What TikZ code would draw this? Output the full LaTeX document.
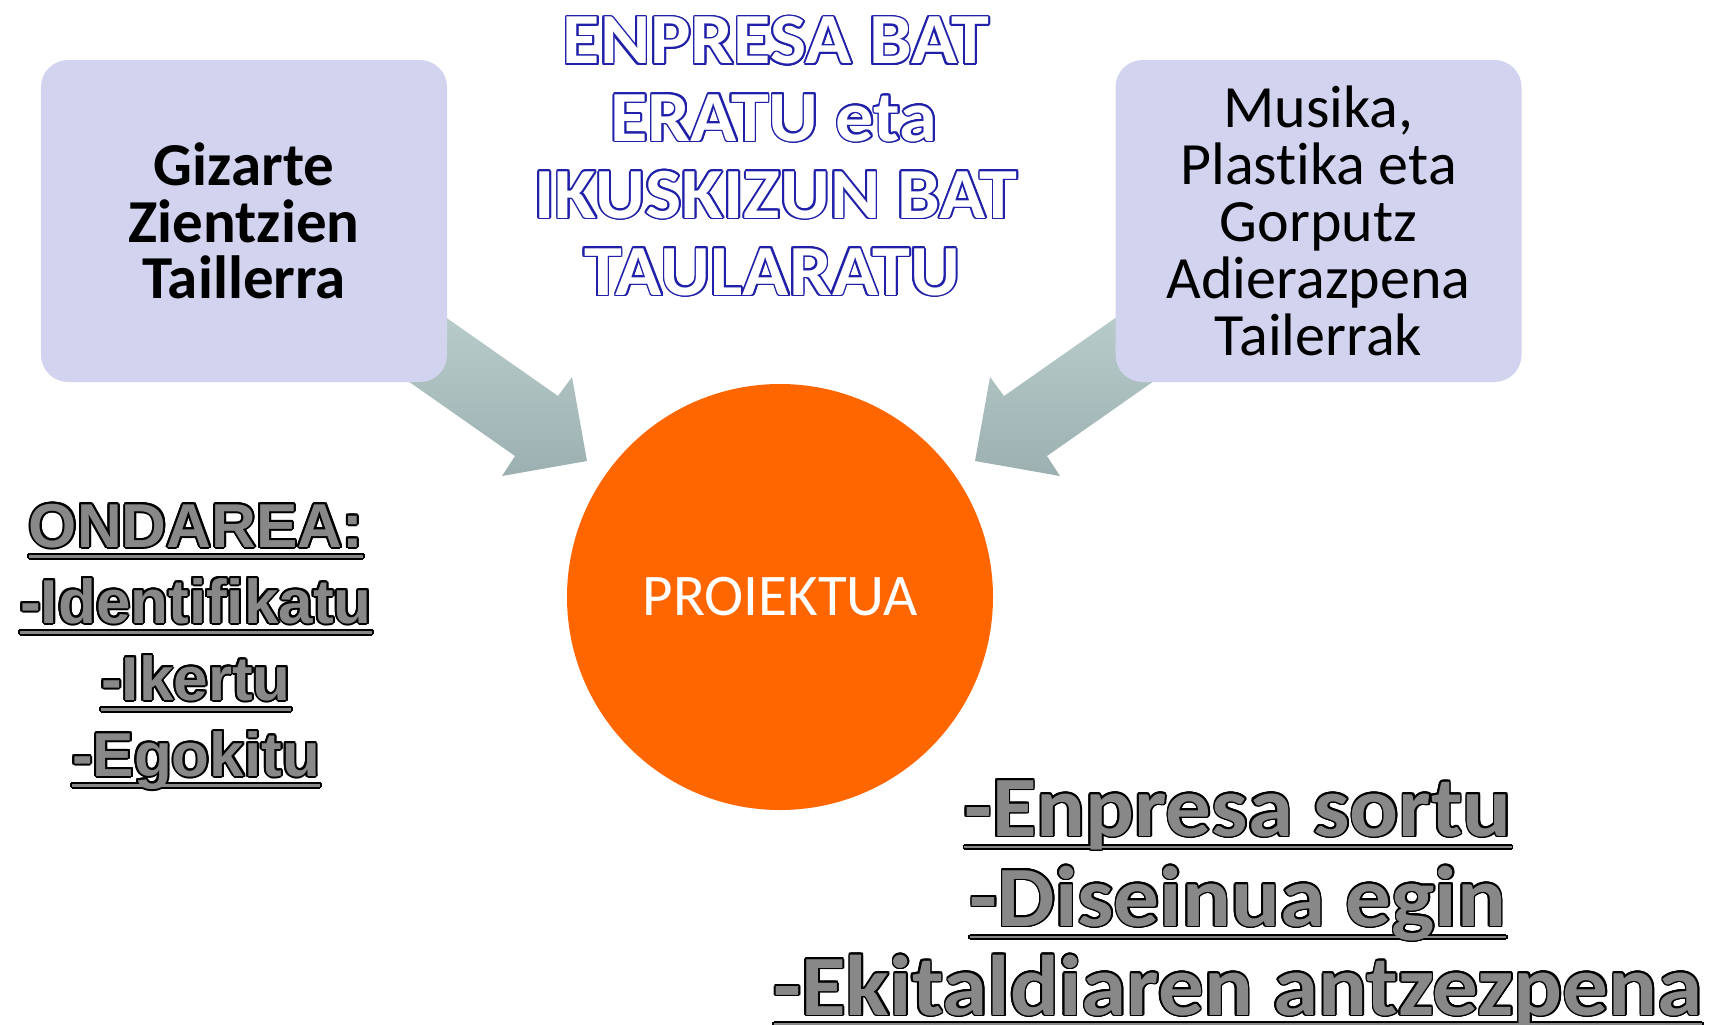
\documentclass[tikz,border=0pt]{standalone}
\usepackage{fontspec}
\usepackage{contour}
\usetikzlibrary{calc}
\newfontfamily\calibri[Ligatures=NoCommon]{Carlito}
\newfontfamily\calibriwide[FakeStretch=1.06,Ligatures=NoCommon]{Carlito}
\newfontfamily\arial{Liberation Sans}
\definecolor{boxfill}{RGB}{210,211,238}
\definecolor{projorange}{RGB}{255,102,0}
\definecolor{titleblue}{RGB}{32,32,168}
\definecolor{textgray}{RGB}{136,136,136}
\definecolor{arrowtop}{RGB}{198,218,216}
\definecolor{arrowbot}{RGB}{156,176,177}
\newsavebox\linebox
\newcommand\ulbar[3]{\sbox\linebox{#3}\rlap{\rule[-#1]{\wd\linebox}{#2}}\usebox\linebox}
\newcommand\bluetxt[1]{\contourlength{1.8pt}\contour{titleblue}{#1}}
\newcommand\ondaretxt[1]{\contourlength{2pt}\contour{black}{\ulbar{10.5pt}{3pt}{#1}}}
\newcommand\ekintzatxt[2]{\contourlength{1.6pt}\contour{black}{\ulbar{#1}{2pt}{#2}}}
\newcommand\fatarrow{(324,232) -- (558,396) -- (572,377) -- (587,461) -- (502,476) -- (515,456) -- (288,297) -- cycle}
\tikzstyle{taller}=[fill=boxfill, rounded corners=27pt, minimum width=406pt, minimum height=322pt, align=center, inner sep=0pt]
\tikzstyle{proj}=[circle, fill=projorange, minimum size=426pt, inner sep=0pt, text=white]
\tikzstyle{title}=[anchor=base, inner sep=0pt, text=white, font=\calibriwide\bfseries\fontsize{72}{77}\selectfont]
\tikzstyle{ondare}=[anchor=base, inner sep=0pt, text=textgray, font=\arial\bfseries\fontsize{62}{77}\selectfont]
\tikzstyle{ekintza}=[anchor=base, inner sep=0pt, text=textgray, font=\calibriwide\bfseries\fontsize{86}{89}\selectfont]
\tikzstyle{shaft}=[top color=arrowtop, bottom color=arrowbot]

\begin{document}
\begin{tikzpicture}[x=1pt,y=-1pt]
  \useasboundingbox (0,0) rectangle (1709,1025);
  \path[shaft] \fatarrow;
  \begin{scope}[xshift=1562pt,xscale=-1]
    \path[shaft] \fatarrow;
  \end{scope}
  \node [taller, font=\calibri\bfseries\fontsize{61}{56.5}\selectfont] (gizarte) at (244,221) {Gizarte\\Zientzien\\Taillerra};
  \node [taller, font=\calibri\fontsize{60}{57}\selectfont] (musika) at (1318.5,221) {Musika,\\Plastika eta\\Gorputz\\Adierazpena\\Tailerrak};
  \node [proj, font=\calibri\fontsize{59}{60}\selectfont] (proiektua) at (780,597) {PROIEKTUA};
  \node [title] (enpresa) at (776,64) {\bluetxt{ENPRESA BAT}};
  \node [title] (eratu) at (774,141) {\bluetxt{ERATU eta}};
  \node [title] (ikuskizun) at (776,218) {\bluetxt{IKUSKIZUN BAT}};
  \node [title] (taularatu) at (772,295) {\bluetxt{TAULARATU}};
  \node [ondare] (ondarea) at (196,547) {\ondaretxt{ONDAREA:}};
  \node [ondare] (identifikatu) at (196,623) {\ondaretxt{-Identifikatu}};
  \node [ondare] (ikertu) at (196,700) {\ondaretxt{-Ikertu}};
  \node [ondare] (egokitu) at (196,776) {\ondaretxt{-Egokitu}};
  \node [ekintza] (sortu) at (1238,836) {\ekintzatxt{12pt}{-Enpresa sortu}};
  \node [ekintza] (diseinua) at (1238,926) {\ekintzatxt{12pt}{-Diseinua egin}};
  \node [ekintza] (antzezpena) at (1238,1015) {\ekintzatxt{10pt}{-Ekitaldiaren antzezpena}};
\end{tikzpicture}
\end{document}
